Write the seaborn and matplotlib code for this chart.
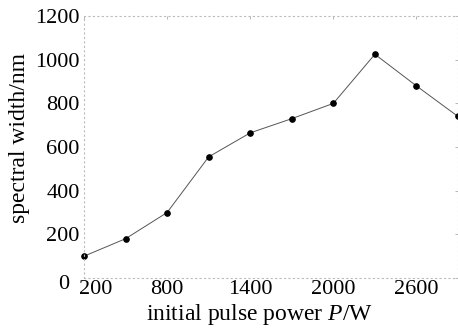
import matplotlib
matplotlib.use("Agg")
import matplotlib.pyplot as plt
import matplotlib.transforms as mtransforms
import seaborn as sns
import pandas as pd

power = [200, 500, 800, 1100, 1400, 1700, 2000, 2300, 2600, 2900]
width = [100, 180, 300, 555, 665, 730, 800, 1025, 880, 740]
xticks = [200, 800, 1400, 2000, 2600]
yticks = [0, 200, 400, 600, 800, 1000, 1200]

sns.set_theme(style="white")
plt.rcParams["font.family"] = ["Liberation Serif", "DejaVu Serif"]
plt.rcParams["mathtext.fontset"] = "custom"
plt.rcParams["mathtext.it"] = "Liberation Serif:italic"
plt.rcParams["mathtext.rm"] = "Liberation Serif"

df = pd.DataFrame({"power": power, "width": width})

fig = plt.figure(figsize=(4.58, 3.28), dpi=100)
ax = fig.add_axes([0.1834, 0.1524, 0.8166, 0.7986])
sns.lineplot(data=df, x="power", y="width", ax=ax, color="#555555", linewidth=0.7,
             marker="o", markersize=4, markerfacecolor="black", markeredgecolor="black",
             clip_on=False)

ax.set_xlim(200, 2900)
ax.set_ylim(0, 1200)
ax.set_xticks(xticks)
ax.set_yticks(yticks)
ax.set_xticklabels([str(t) for t in xticks])
ax.set_yticklabels([str(t) for t in yticks])
ax.tick_params(direction="in", length=2, width=0.6, color="#aaaaaa",
               labelsize=16, labelcolor="black", top=True, right=True)
ax.tick_params(axis="x", pad=1.5)
ax.tick_params(axis="y", pad=3)
for s in ax.spines.values():
    s.set_color("#bbbbbb")
    s.set_linestyle((0, (1, 3)))
    s.set_linewidth(0.8)

# MATLAB-like offsets for the corner labels
xl0 = ax.get_xticklabels()[0]
xl0.set_transform(xl0.get_transform() + mtransforms.ScaledTranslation(12/100, 0, fig.dpi_scale_trans))
yl0 = ax.get_yticklabels()[0]
yl0.set_transform(yl0.get_transform() + mtransforms.ScaledTranslation(-11/100, -4/100, fig.dpi_scale_trans))

ax.set_xlabel(r"initial pulse power $\mathit{P}$/W", fontsize=17, color="black")
ax.set_ylabel("spectral width/nm", fontsize=17, color="black")
ax.xaxis.set_label_coords(0.468, -0.092)
ax.yaxis.set_label_coords(-0.145, 0.534)

fig.savefig("out.png", dpi=100)
